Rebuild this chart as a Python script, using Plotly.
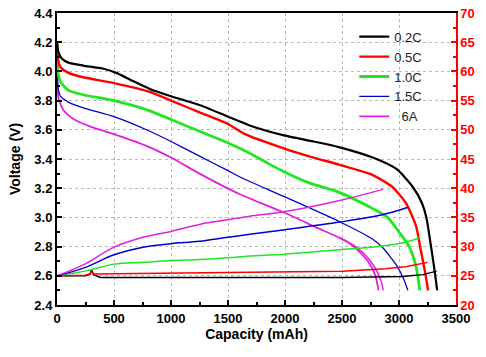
import plotly.graph_objects as go

# ---------------- data ----------------
rates = ["0.2C", "0.5C", "1.0C", "1.5C", "\u00a0\u00a06A"]
colors = ["#000000", "#ff0000", "#22e622", "#0000cc", "#e020e0"]

# discharge voltage curves (capacity mAh, voltage V)
cap_02 = [0, 10, 40, 100, 230, 400, 520, 650, 814, 1000, 1250, 1500, 1690, 2000, 2250, 2480, 2770, 2980, 3120, 3200, 3240, 3285, 3315, 3335]
v_02 = [4.20, 4.14, 4.09, 4.06, 4.04, 4.02, 3.99, 3.94, 3.88, 3.83, 3.77, 3.69, 3.63, 3.56, 3.52, 3.48, 3.41, 3.33, 3.21, 3.10, 3.00, 2.78, 2.62, 2.50]

cap_05 = [0, 10, 30, 100, 230, 500, 814, 1000, 1250, 1500, 1650, 2000, 2250, 2480, 2770, 2940, 3060, 3150, 3190, 3230, 3255]
v_05 = [4.20, 4.08, 4.03, 3.99, 3.96, 3.92, 3.86, 3.80, 3.72, 3.64, 3.57, 3.47, 3.41, 3.36, 3.29, 3.21, 3.10, 2.94, 2.78, 2.62, 2.50]

cap_10 = [0, 8, 30, 100, 230, 500, 814, 1000, 1250, 1500, 1690, 1850, 2000, 2200, 2480, 2770, 2900, 3000, 3090, 3150, 3182]
v_10 = [4.20, 4.00, 3.93, 3.87, 3.84, 3.80, 3.73, 3.67, 3.59, 3.51, 3.44, 3.37, 3.31, 3.24, 3.17, 3.06, 3.00, 2.90, 2.80, 2.66, 2.50]

cap_15 = [0, 8, 30, 100, 230, 500, 814, 1000, 1250, 1500, 1623, 2000, 2480, 2770, 2860, 2980, 3040, 3078]
v_15 = [4.15, 3.90, 3.83, 3.79, 3.75, 3.69, 3.59, 3.52, 3.42, 3.32, 3.27, 3.14, 2.97, 2.85, 2.79, 2.67, 2.58, 2.50]

cap_6a = [0, 5, 15, 60, 150, 300, 500, 814, 1000, 1250, 1600, 2000, 2280, 2480, 2570, 2685, 2760, 2800, 2820]
v_6a = [4.20, 3.90, 3.81, 3.73, 3.67, 3.62, 3.57, 3.48, 3.41, 3.30, 3.16, 3.03, 2.93, 2.86, 2.82, 2.74, 2.66, 2.58, 2.50]
cap_6a_b = [2480, 2620, 2730, 2800, 2845, 2862]
v_6a_b = [2.86, 2.80, 2.72, 2.64, 2.56, 2.50]

# temperature curves (capacity mAh, temperature degC)
tcap_02 = [0, 250, 290, 303, 320, 380, 1000, 2500, 3030, 3210, 3330]
t_02 = [25.0, 25.0, 25.3, 26.0, 25.2, 24.7, 24.7, 24.7, 24.9, 25.2, 25.8]

tcap_05 = [0, 245, 290, 300, 320, 1000, 1690, 2500, 2880, 3070, 3250]
t_05 = [25.0, 25.1, 25.3, 25.7, 25.3, 25.4, 25.6, 25.8, 26.2, 26.6, 27.3]

tcap_10 = [0, 245, 500, 755, 1000, 1250, 1500, 1690, 2000, 2500, 2860, 3090, 3190]
t_10 = [25.0, 25.8, 27.0, 27.3, 27.6, 27.8, 28.1, 28.4, 28.7, 29.5, 30.1, 30.9, 31.6]

tcap_15 = [0, 245, 500, 755, 1000, 1250, 1500, 1690, 2000, 2480, 2860, 3075]
t_15 = [25.0, 26.4, 28.6, 29.9, 30.5, 30.9, 31.6, 32.1, 32.9, 34.2, 35.5, 36.7]

tcap_6a = [0, 245, 500, 755, 1000, 1250, 1500, 1690, 2000, 2480, 2860]
t_6a = [25.0, 27.0, 29.9, 31.6, 32.6, 33.8, 34.6, 35.2, 36.0, 37.9, 39.8]

x_ticks = [0, 500, 1000, 1500, 2000, 2500, 3000, 3500]
y_ticks = [2.4, 2.6, 2.8, 3.0, 3.2, 3.4, 3.6, 3.8, 4.0, 4.2, 4.4]
y2_ticks = [20, 25, 30, 35, 40, 45, 50, 55, 60, 65, 70]

# ---------------- figure ----------------
fig = go.Figure()

v_caps = [cap_02, cap_05, cap_10, cap_15, cap_6a]
v_vals = [v_02, v_05, v_10, v_15, v_6a]
v_widths = [2.2, 2.4, 2.8, 1.3, 1.8]
t_caps = [tcap_02, tcap_05, tcap_10, tcap_15, tcap_6a]
t_vals = [t_02, t_05, t_10, t_15, t_6a]
t_widths = [1.5, 1.5, 1.5, 1.5, 1.5]
t_shapes = ["linear", "linear", "spline", "spline", "spline"]

# temperature curves first (drawn under)
for i in range(5):
    fig.add_trace(go.Scatter(
        x=t_caps[i], y=t_vals[i], yaxis="y2", mode="lines",
        line=dict(color=colors[i], width=t_widths[i], shape=t_shapes[i]),
        showlegend=False, hoverinfo="skip"))

fig.add_trace(go.Scatter(
    x=cap_6a_b, y=v_6a_b, mode="lines",
    line=dict(color=colors[4], width=1.5, shape="spline"),
    showlegend=False, hoverinfo="skip"))

for i in reversed(range(5)):
    fig.add_trace(go.Scatter(
        x=v_caps[i], y=v_vals[i], mode="lines", name=rates[i],
        line=dict(color=colors[i], width=v_widths[i], shape="spline", smoothing=0.6),
        legendrank=i + 1))

FONT = "Liberation Sans, Arial"
tickfont = dict(family=FONT, size=13, color="#000", weight="bold")

fig.update_layout(
    width=486, height=357,
    margin=dict(l=57, r=30, t=13, b=52, autoexpand=False),
    paper_bgcolor="white", plot_bgcolor="white",
    font=dict(family=FONT, color="#000"),
    legend=dict(
        x=0.745, y=0.97, xanchor="left", yanchor="top",
        bgcolor="rgba(255,255,255,0)",
        font=dict(size=13, family=FONT, color="#222"),
        itemwidth=30, tracegroupgap=0, traceorder="normal",
    ),
    xaxis=dict(
        range=[0, 3500], tickvals=x_ticks, automargin=False,
        showline=True, linecolor="#000", linewidth=2, mirror=True,
        ticks="inside", ticklen=5, tickwidth=1.5, tickcolor="#000",
        minor=dict(dtick=250, ticks="inside", ticklen=3, tickcolor="#000", showgrid=False),
        showgrid=True, gridcolor="#b8b8b8", griddash="dot", gridwidth=1,
        zeroline=False, tickfont=tickfont,
        title=dict(text="Capacity (mAh)", font=dict(size=14, weight="bold", family=FONT), standoff=4),
    ),
    yaxis=dict(
        range=[2.4, 4.4], tickvals=y_ticks, tickformat=".1f", automargin=False,
        showline=True, linecolor="#000", linewidth=2,
        ticks="inside", ticklen=5, tickwidth=1.5, tickcolor="#000",
        minor=dict(dtick=0.1, ticks="inside", ticklen=3, tickcolor="#000", showgrid=False),
        showgrid=True, gridcolor="#b8b8b8", griddash="dot", gridwidth=1,
        zeroline=False, tickfont=tickfont,
        title=dict(text="Voltage (V)", font=dict(size=14, weight="bold", family=FONT), standoff=10),
    ),
    yaxis2=dict(
        range=[20, 70], tickvals=y2_ticks, overlaying="y", side="right", automargin=False,
        showline=True, linecolor="#ff0000", linewidth=1.5,
        ticks="inside", ticklen=5, tickwidth=1.5, tickcolor="#ff0000",
        minor=dict(dtick=2.5, ticks="inside", ticklen=3, tickcolor="#ff0000", showgrid=False),
        showgrid=False, zeroline=False,
        tickfont=dict(family=FONT, size=13, color="#ff0000", weight="bold"),
    ),
)

fig.write_html("out.html", config={"displayModeBar": False},
               post_script="document.body.style.margin='0';document.body.style.overflow='hidden';")
